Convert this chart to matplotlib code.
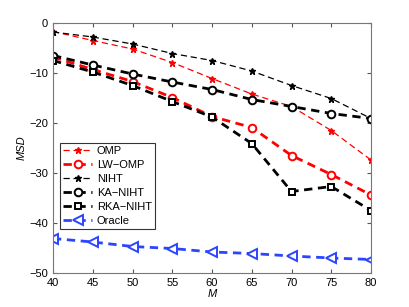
import matplotlib
matplotlib.use("Agg")
import matplotlib.pyplot as plt

M = [40, 45, 50, 55, 60, 65, 70, 75, 80]
omp = [-1.7, -3.5, -5.2, -7.9, -11.1, -14.2, -16.7, -21.5, -27.4]
lw_omp = [-6.8, -9.3, -11.7, -14.9, -18.7, -20.9, -26.5, -30.3, -34.4]
niht = [-1.8, -2.8, -4.2, -6.1, -7.5, -9.6, -12.5, -15.1, -19.1]
ka_niht = [-6.5, -8.4, -10.2, -11.8, -13.3, -15.3, -16.7, -18.1, -19.1]
rka_niht = [-7.5, -9.8, -12.5, -15.7, -18.8, -24.1, -33.7, -32.7, -37.5]
oracle = [-43.1, -43.8, -44.7, -45.1, -45.8, -46.1, -46.6, -47.0, -47.3]

plt.rcParams['font.family'] = ['Liberation Sans', 'DejaVu Sans']
fig = plt.figure(figsize=(4.09, 3.07), dpi=100)
ax = fig.add_axes([53/409, 1-273/307, (371-53)/409, (273-23)/307])

blue = '#2b45ff'
ax.plot(M, omp, '--', color='red', lw=0.9, marker='*', ms=4.5, label='OMP', dashes=(5, 3))
ax.plot(M, lw_omp, '--', color='red', lw=2, marker='o', ms=5.5, mfc='white', mew=1.4, label='LW\u2212OMP', dashes=(3, 2))
ax.plot(M, niht, '--', color='black', lw=0.9, marker='*', ms=4.5, label='NIHT', dashes=(5, 3))
ax.plot(M, ka_niht, '--', color='black', lw=2, marker='o', ms=5.5, mfc='white', mew=1.4, label='KA\u2212NIHT', dashes=(3, 2))
ax.plot(M, rka_niht, '--', color='black', lw=2, marker='s', ms=4.5, mfc='white', mew=1.4, label='RKA\u2212NIHT', dashes=(3, 2))
ax.plot(M, oracle, '--', color=blue, lw=2, marker='<', ms=6.5, mfc='white', mew=1.4, label='Oracle', dashes=(3, 2))

ax.set_xlim(40, 80)
ax.set_ylim(-50, 0)
ax.set_xticks(range(40, 81, 5))
ax.set_yticks([-50, -40, -30, -20, -10, 0])
ax.set_yticklabels(['\u221250', '\u221240', '\u221230', '\u221220', '\u221210', '0'])
ax.tick_params(direction='in', top=True, right=True, labelsize=8, length=3, color='#555555')
for s in ax.spines.values():
    s.set_color('#777777')
ax.set_xlabel('M', fontstyle='italic', fontsize=8, labelpad=1)
ax.set_ylabel('MSD', fontstyle='italic', fontsize=8, labelpad=2)

leg = ax.legend(loc='upper left', bbox_to_anchor=(7/318, 1-120/250), fontsize=8,
                frameon=True, fancybox=False, borderpad=0.3, labelspacing=0.35,
                handlelength=2.6, handletextpad=0.4, borderaxespad=0)
leg.get_frame().set_edgecolor('black')
leg.get_frame().set_linewidth(0.8)

fig.savefig('out.png', dpi=100)
